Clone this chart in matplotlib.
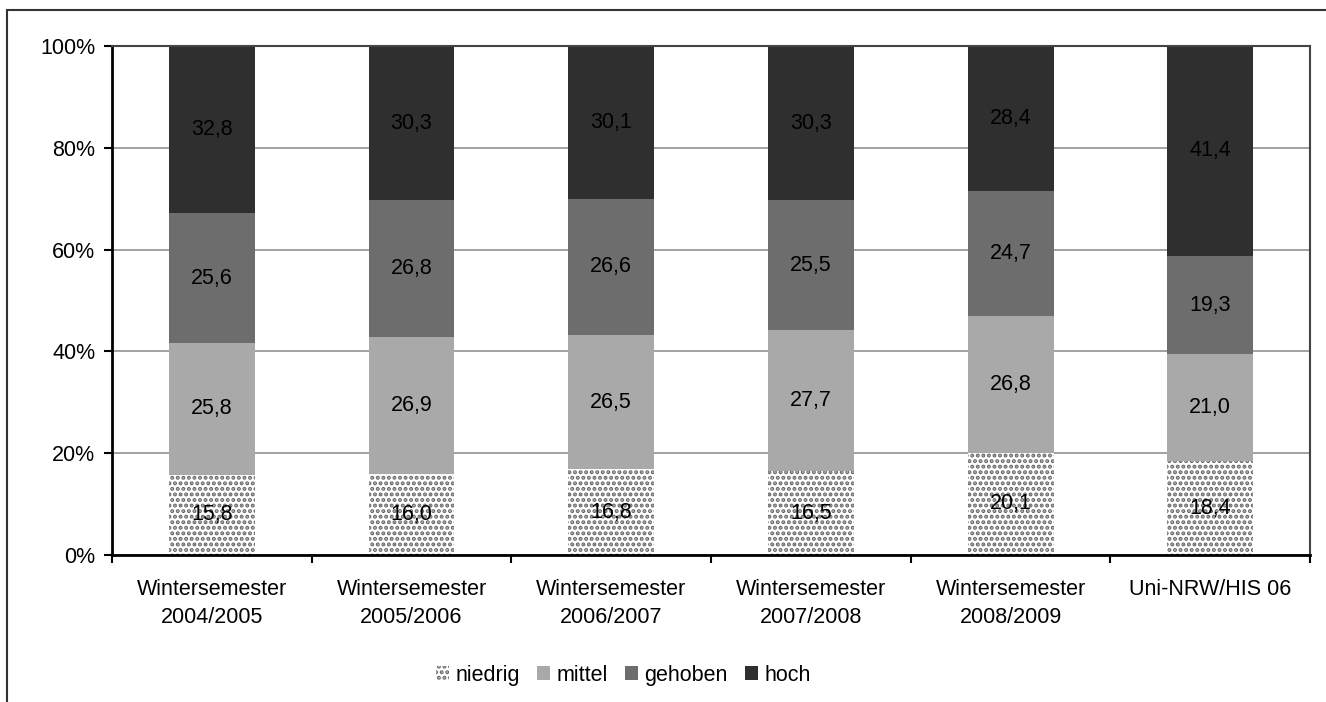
import matplotlib.pyplot as plt
import numpy as np
from matplotlib.patches import Patch, Rectangle

plt.rcParams['font.family'] = ['Liberation Sans', 'DejaVu Sans']
plt.rcParams['hatch.linewidth'] = 2.0

categories = ['Wintersemester\n2004/2005', 'Wintersemester\n2005/2006', 'Wintersemester\n2006/2007',
              'Wintersemester\n2007/2008', 'Wintersemester\n2008/2009', 'Uni-NRW/HIS 06']
niedrig = [15.8, 16.0, 16.8, 16.5, 20.1, 18.4]
mittel = [25.8, 26.9, 26.5, 27.7, 26.8, 21.0]
gehoben = [25.6, 26.8, 26.6, 25.5, 24.7, 19.3]
hoch = [32.8, 30.3, 30.1, 30.3, 28.4, 41.4]

series = [('niedrig', niedrig, 'white'),
          ('mittel', mittel, '#a9a9a9'),
          ('gehoben', gehoben, '#6d6d6d'),
          ('hoch', hoch, '#2f2f2f')]

FS = 15.5

fig = plt.figure(figsize=(13.26, 7.02), dpi=100)
ax = fig.add_axes([0.0845, 0.2094, 0.9035, 0.7251])

# outer frame of the figure (top and left edges)
fig.add_artist(Rectangle((7 / 1326, -0.1), 1.2, 1 - 10 / 702 + 0.1, transform=fig.transFigure,
                         fill=False, edgecolor='#333333', linewidth=1.5))

x = np.arange(len(categories))
bottom = np.zeros(len(categories))
handles = []
for name, vals, color in series:
    vals = np.array(vals)
    if name == 'niedrig':
        ax.bar(x, vals, 0.43, bottom=bottom, color='white', edgecolor='#6a6a6a',
               hatch='...', linewidth=0, zorder=2)
        handles.append(Patch(facecolor='white', edgecolor='#6a6a6a', hatch='...', linewidth=0, label=name))
    else:
        ax.bar(x, vals, 0.43, bottom=bottom, color=color, linewidth=0, zorder=2)
        handles.append(Patch(facecolor=color, linewidth=0, label=name))
    for xi, b, v in zip(x, bottom, vals):
        ax.text(xi, b + v / 2, f'{v:.1f}'.replace('.', ','), ha='center', va='center',
                fontsize=FS, color='black', zorder=3)
    bottom += vals

ax.set_xlim(-0.5, len(categories) - 0.5)
ax.set_ylim(0, 100)
ax.set_yticks(range(0, 101, 20))
ax.set_yticklabels([f'{v}%' for v in range(0, 101, 20)], fontsize=FS)
ax.yaxis.grid(True, color='#9a9a9a', linewidth=1.3, zorder=0)
ax.set_axisbelow(True)

ax.set_xticks(np.arange(-0.5, len(categories), 1))
ax.set_xticklabels([])
ax.set_xticks(x, minor=True)
ax.set_xticklabels(categories, minor=True, fontsize=FS, linespacing=1.45)
ax.tick_params(axis='x', which='minor', length=0, pad=17)
ax.tick_params(axis='x', which='major', length=6, width=1.5, direction='out', color='black')
ax.tick_params(axis='y', length=6, width=1.5, direction='out', pad=6)

for side in ['left', 'bottom']:
    ax.spines[side].set_linewidth(2)
    ax.spines[side].set_color('black')
for side in ['top', 'right']:
    ax.spines[side].set_linewidth(1.5)
    ax.spines[side].set_color('#444444')

fig.legend(handles=handles, loc='center', bbox_to_anchor=(0.470, 0.038), ncol=4, frameon=False,
           fontsize=FS, handlelength=0.6, handleheight=0.6, handletextpad=0.3, columnspacing=0.8)

fig.savefig('out.png', dpi=100)
